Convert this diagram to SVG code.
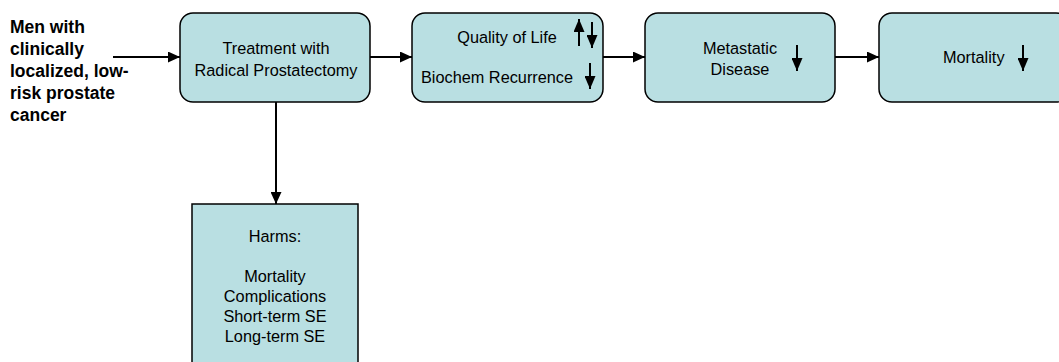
<svg xmlns="http://www.w3.org/2000/svg" width="1059" height="362" viewBox="0 0 1059 362">
<defs>
<marker id="ah" viewBox="0 0 12 11" refX="12" refY="5.5" markerWidth="12" markerHeight="11" markerUnits="userSpaceOnUse" orient="auto">
<path d="M0,0 L12,5.5 L0,11 Z" fill="#000"/>
</marker>
<marker id="sa" viewBox="0 0 13 11" refX="13" refY="5.5" markerWidth="13" markerHeight="11" markerUnits="userSpaceOnUse" orient="auto">
<path d="M0,0 L13,5.5 L0,11 Z" fill="#000"/>
</marker>
<style>
.box{fill:#b9dfe2;stroke:#000;stroke-width:1.5}
.t{font-family:"Liberation Sans",Arial,sans-serif;font-size:16.3px;fill:#000}
.c{text-anchor:middle}
.big{font-family:"Liberation Sans",Arial,sans-serif;font-size:17.5px;font-weight:bold;fill:#000}
.ln{stroke:#000;stroke-width:2;fill:none}
.sm{stroke:#000;stroke-width:2;fill:none}
</style>
</defs>
<rect width="1059" height="362" fill="#fff"/>
<g id="input">
<text class="big" x="10" y="33">Men with</text>
<text class="big" x="10" y="55">clinically</text>
<text class="big" x="10" y="77">localized, low-</text>
<text class="big" x="10" y="99">risk prostate</text>
<text class="big" x="10" y="121">cancer</text>
</g>
<g id="treatment">
<rect class="box" x="180" y="13" width="190" height="89" rx="13"/>
<text class="t c" x="276" y="54">Treatment with</text>
<text class="t c" x="276" y="76">Radical Prostatectomy</text>
</g>
<g id="intermediate">
<rect class="box" x="412" y="13" width="191" height="89" rx="13"/>
<text class="t c" x="507" y="43">Quality of Life</text>
<text class="t" x="421" y="83">Biochem Recurrence</text>
<line class="sm" x1="579" y1="46" x2="579" y2="19" marker-end="url(#sa)"/>
<line class="sm" x1="592" y1="22" x2="592" y2="48" marker-end="url(#sa)"/>
<line class="sm" x1="590" y1="63" x2="590" y2="89" marker-end="url(#sa)"/>
</g>
<g id="metastatic">
<rect class="box" x="645" y="13" width="190" height="89" rx="13"/>
<text class="t c" x="740" y="54">Metastatic</text>
<text class="t c" x="740" y="75">Disease</text>
<line class="sm" x1="797" y1="45" x2="797" y2="71" marker-end="url(#sa)"/>
</g>
<g id="mortality">
<rect class="box" x="879" y="13" width="190" height="89" rx="13"/>
<text class="t" x="943" y="63">Mortality</text>
<line class="sm" x1="1023" y1="45" x2="1023" y2="71" marker-end="url(#sa)"/>
</g>
<g id="harms">
<rect class="box" x="192" y="204" width="166" height="170"/>
<text class="t c" x="275" y="242">Harms:</text>
<text class="t c" x="275" y="282">Mortality</text>
<text class="t c" x="275" y="302">Complications</text>
<text class="t c" x="275" y="322">Short-term SE</text>
<text class="t c" x="275" y="342">Long-term SE</text>
</g>
<g id="connectors">
<line class="ln" x1="113" y1="57" x2="180" y2="57" marker-end="url(#ah)"/>
<line class="ln" x1="370" y1="57" x2="412" y2="57" marker-end="url(#ah)"/>
<line class="ln" x1="603" y1="57" x2="645" y2="57" marker-end="url(#ah)"/>
<line class="ln" x1="835" y1="57" x2="879" y2="57" marker-end="url(#ah)"/>
<line class="ln" x1="276" y1="102" x2="276" y2="204" marker-end="url(#ah)"/>
</g>
</svg>
